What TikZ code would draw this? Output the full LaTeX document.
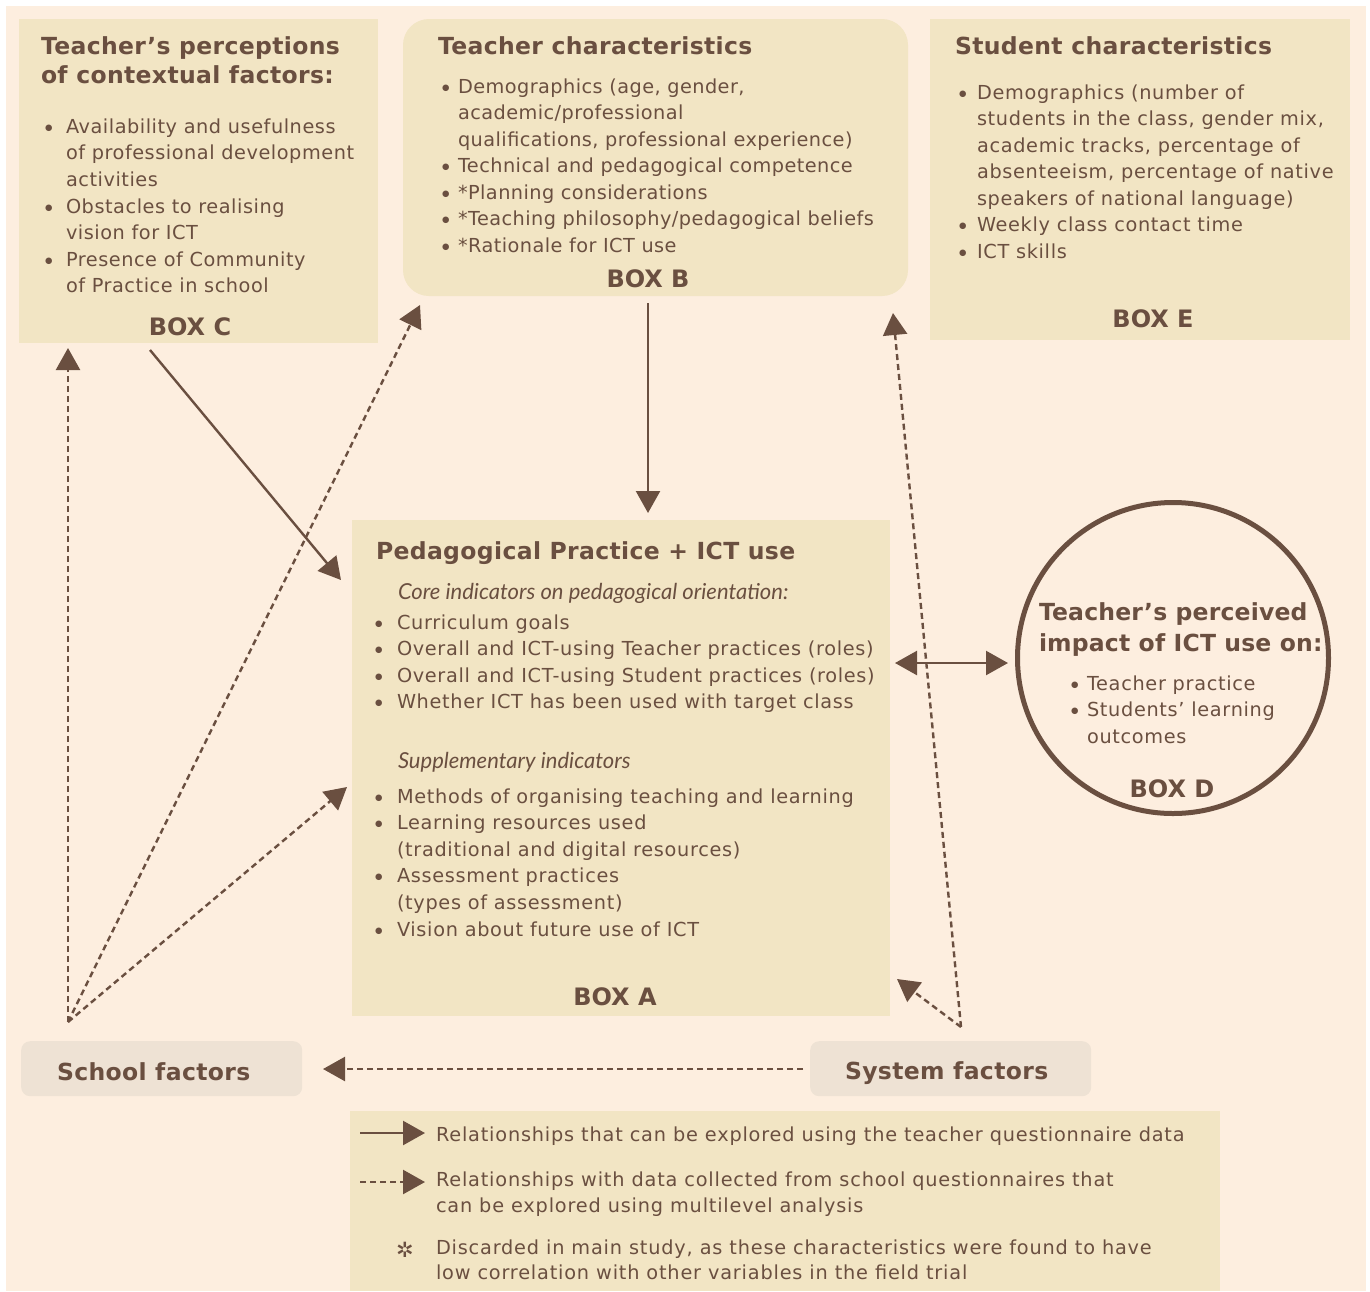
\documentclass[tikz,border=0pt]{standalone}
\usepackage{fontspec}
\setmainfont{DejaVu Sans}
\newfontfamily\humfont{Lato}
\usetikzlibrary{arrows.meta}

\definecolor{pagebg}{RGB}{253,238,223}
\definecolor{boxfill}{RGB}{242,229,196}
\definecolor{factorfill}{RGB}{238,226,212}
\definecolor{ink}{RGB}{106,79,64}

% type sizes (1pt per unit)
\newcommand\txtbody{\fontsize{19.3}{26.6}\selectfont\addfontfeature{LetterSpace=3.5}}
\newcommand\txthead{\fontsize{23.5}{29.5}\selectfont\bfseries\addfontfeature{LetterSpace=1.5}}
\newcommand\txtlabel{\fontsize{24}{24}\selectfont\bfseries}
\newcommand\txtital{\humfont\itshape\fontsize{22}{26.6}\selectfont}
% hanging bullet, #1 = distance from bullet to text
\newcommand\itemdot[1][18pt]{\leavevmode\llap{\makebox[#1][l]{\fontsize{8.5}{8.5}\selectfont\addfontfeature{LetterSpace=0}\raisebox{3pt}{●}}}}

\tikzset{
  box/.style={fill=boxfill, draw=none, inner sep=0pt, outer sep=0pt, anchor=north west},
  factor/.style={fill=factorfill, draw=none, rounded corners=9pt, inner sep=0pt, anchor=north west},
  txt/.style={inner sep=0pt, outer sep=0pt, anchor=base west, text=ink},
  lab/.style={txt, anchor=base},
  conn/.style={draw=ink, line width=2.4pt, -{Triangle[length=22pt,width=24pt]}},
  dconn/.style={conn, dash pattern=on 6pt off 4pt},
}

\begin{document}
\begin{tikzpicture}[x=1pt, y=-1pt]
\useasboundingbox (0,0) rectangle (1370,1291);
\fill[white] (0,0) rectangle (1370,1291);
\fill[pagebg] (6,6) rectangle (1366,1291);

% ---------- boxes ----------
\node[box, minimum width=359pt, minimum height=324pt] (boxC) at (19,19) {};
\node[box, rounded corners=26pt, minimum width=505pt, minimum height=277pt] (boxB) at (403,19) {};
\node[box, minimum width=420pt, minimum height=321pt] (boxE) at (930,19) {};
\node[box, minimum width=538pt, minimum height=496pt] (boxA) at (352,520) {};
\node[circle, draw=ink, line width=5pt, minimum size=311pt, inner sep=0pt] (boxD) at (1173,658) {};
\node[factor, minimum width=281pt, minimum height=55pt] (school) at (21,1041) {};
\node[factor, minimum width=281pt, minimum height=55pt] (system) at (810,1041) {};
\node[box, minimum width=870pt, minimum height=180pt] (legend) at (350,1111) {};

% ---------- box C ----------
\node[txt] (headC) at (41,54.3) {\parbox[t]{400pt}{\txthead Teacher’s perceptions\\of contextual factors:}};
\node[txt] (bodyC) at (66,133.3) {\parbox[t]{400pt}{\txtbody\addfontfeature{LetterSpace=2.8}\raggedright
  \itemdot[21pt]Availability and usefulness\\
  of professional development\\
  activities\\
  \itemdot[21pt]Obstacles to realising\\
  vision for ICT\\
  \itemdot[21pt]Presence of Community\\
  of Practice in school}};
\node[lab] (labC) at (190,335) {\txtlabel BOX C};

% ---------- box B ----------
\node[txt] (headB) at (438,54.3) {\txthead Teacher characteristics};
\node[txt] (bodyB) at (458,93) {\parbox[t]{500pt}{\txtbody\addfontfeature{LetterSpace=2.3}\baselineskip=26.5pt\raggedright
  \itemdot[16pt]Demographics (age, gender,\\
  academic/professional\\
  qualifications, professional experience)\\
  \itemdot[16pt]Technical and pedagogical competence\\
  \itemdot[16pt]*Planning considerations\\
  \itemdot[16pt]*Teaching philosophy/pedagogical beliefs\\
  \itemdot[16pt]*Rationale for ICT use}};
\node[lab] (labB) at (648,287) {\txtlabel BOX B};

% ---------- box E ----------
\node[txt] (headE) at (955,54.3) {\txthead Student characteristics};
\node[txt] (bodyE) at (977,99) {\parbox[t]{500pt}{\txtbody\baselineskip=26.5pt\raggedright
  \itemdot[18pt]Demographics (number of\\
  students in the class, gender mix,\\
  academic tracks, percentage of\\
  absenteeism, percentage of native\\
  speakers of national language)\\
  \itemdot[18pt]Weekly class contact time\\
  \itemdot[18pt]ICT skills}};
\node[lab] (labE) at (1153,327) {\txtlabel BOX E};

% ---------- box A ----------
\node[txt] (headA) at (376,559) {\txthead Pedagogical Practice + ICT use};
\node[txt] (coreA) at (398,599) {\txtital Core indicators on pedagogical orientation:};
\node[txt] (bodyA1) at (397,629) {\parbox[t]{500pt}{\txtbody\raggedright
  \itemdot[22pt]Curriculum goals\\
  \itemdot[22pt]Overall and ICT-using Teacher practices (roles)\\
  \itemdot[22pt]Overall and ICT-using Student practices (roles)\\
  \itemdot[22pt]Whether ICT has been used with target class}};
\node[txt] (suppA) at (398,768) {\txtital Supplementary indicators};
\node[txt] (bodyA2) at (397,803) {\parbox[t]{500pt}{\txtbody\raggedright
  \itemdot[22pt]Methods of organising teaching and learning\\
  \itemdot[22pt]Learning resources used\\
  (traditional and digital resources)\\
  \itemdot[22pt]Assessment practices\\
  (types of assessment)\\
  \itemdot[22pt]Vision about future use of ICT}};
\node[lab] (labA) at (615,1005) {\txtlabel BOX A};

% ---------- box D ----------
\node[txt] (headD) at (1039,620) {\parbox[t]{400pt}{\txthead\addfontfeature{LetterSpace=0.8}\baselineskip=31.7pt Teacher’s perceived\\impact of ICT use on:}};
\node[txt] (bodyD) at (1087,690) {\parbox[t]{300pt}{\txtbody\baselineskip=26.5pt\raggedright
  \itemdot[16pt]Teacher practice\\
  \itemdot[16pt]Students’ learning\\
  outcomes}};
\node[lab] (labD) at (1172,797) {\txtlabel BOX D};

% ---------- factor boxes ----------
\node[txt] (schoolT) at (57,1080) {\txthead School factors};
\node[txt] (systemT) at (845,1079) {\txthead System factors};

% ---------- connector end points ----------
\coordinate (cOut) at (150,350);
\coordinate (aInC) at (341,580);
\coordinate (bOut) at (648,303);
\coordinate (aInB) at (648,513);
\coordinate (aSide) at (895,663);
\coordinate (dSide) at (1008,663);
\coordinate (schoolHub) at (68,1022);
\coordinate (cInS) at (68,348);
\coordinate (bInS) at (420,305);
\coordinate (aInS) at (347,787);
\coordinate (systemHub) at (961,1027);
\coordinate (eInY) at (893,313);
\coordinate (aInY) at (897,979);
\coordinate (systemOut) at (803,1069);
\coordinate (schoolIn) at (323,1069);

% ---------- connectors ----------
\draw[conn] (cOut) -- (aInC);
\draw[conn] (bOut) -- (aInB);
\draw[conn, {Triangle[length=22pt,width=24pt]}-{Triangle[length=22pt,width=24pt]}] (aSide) -- (dSide);
\draw[dconn] (schoolHub) -- (cInS);
\draw[dconn] (schoolHub) -- (bInS);
\draw[dconn] (schoolHub) -- (aInS);
\draw[dconn] (systemHub) -- (eInY);
\draw[dconn] (systemHub) -- (aInY);
\draw[dconn] (systemOut) -- (schoolIn);

% ---------- legend ----------
\coordinate (lg1a) at (360,1133);
\coordinate (lg1b) at (425,1133);
\coordinate (lg2a) at (360,1182);
\coordinate (lg2b) at (425,1182);
\draw[conn] (lg1a) -- (lg1b);
\draw[dconn] (lg2a) -- (lg2b);
\node[txt] (lt1) at (436,1141) {\txtbody\addfontfeature{LetterSpace=4.2} Relationships that can be explored using the teacher questionnaire data};
\node[txt] (lt2) at (436,1186) {\parbox[t]{800pt}{\txtbody\addfontfeature{LetterSpace=4.2}\baselineskip=26pt
  Relationships with data collected from school questionnaires that\\
  can be explored using multilevel analysis}};
\node[txt, anchor=center] (lstar) at (405,1250) {\fontsize{21}{21}\selectfont ✲};
\node[txt] (lt3) at (436,1254) {\parbox[t]{800pt}{\txtbody\addfontfeature{LetterSpace=4.2}\baselineskip=25pt
  Discarded in main study, as these characteristics were found to have\\
  low correlation with other variables in the field trial}};
\end{tikzpicture}
\end{document}
